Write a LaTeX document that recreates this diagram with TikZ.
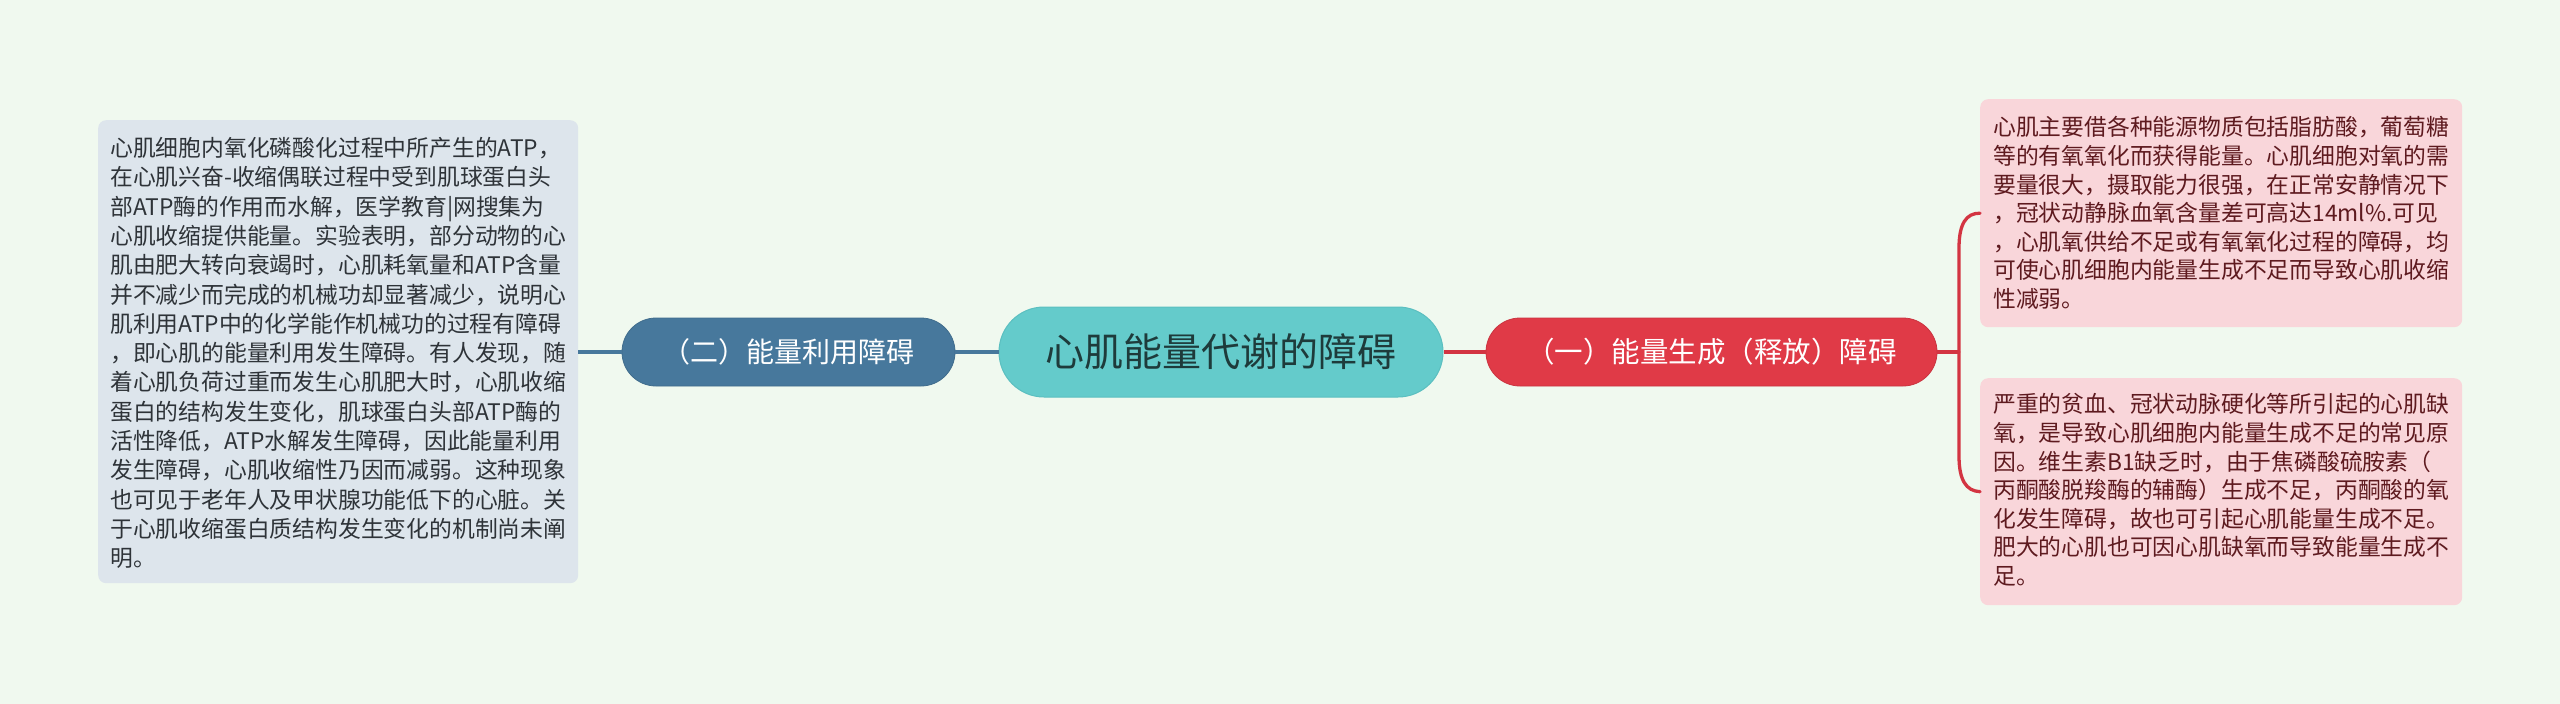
\documentclass[tikz,border=0pt]{standalone}
\usepackage{fontspec}
\setmainfont{Noto Sans CJK SC}
\definecolor{bgc}{HTML}{F0F9EF}
\definecolor{lboxc}{HTML}{DDE5EC}
\definecolor{ltextc}{HTML}{2E3338}
\definecolor{pboxc}{HTML}{F9D6DA}
\definecolor{ptextc}{HTML}{5E1A1F}
\definecolor{centc}{HTML}{64CBCB}
\definecolor{centb}{HTML}{5BBFC0}
\definecolor{centt}{HTML}{1E3B3B}
\definecolor{bluec}{HTML}{47789C}
\definecolor{redc}{HTML}{E03A47}
\definecolor{redl}{HTML}{D33542}
\begin{document}
\begin{tikzpicture}[x=1pt,y=-1pt,
  pill/.style={rectangle, rounded corners=34, minimum height=68, inner sep=0, align=center},
  bluenode/.style={pill, fill=bluec, draw=bluec!90!black, line width=0.8, text=white, minimum width=333, font=\fontsize{28}{32}\selectfont},
  rednode/.style={pill, fill=redc, draw=redc!90!black, line width=0.8, text=white, minimum width=451, font=\fontsize{28.5}{32}\selectfont},
  centnode/.style={rectangle, rounded corners=45, minimum height=90, minimum width=444, inner sep=0, fill=centc, draw=centb, line width=1, text=centt, font=\fontsize{39}{44}\selectfont},
  lbox/.style={rectangle, rounded corners=8, fill=lboxc, inner sep=0},
  pbox/.style={rectangle, rounded corners=8, fill=pboxc, inner sep=0},
  ltext/.style={inner sep=0, align=left, text=ltextc, font=\fontsize{22.8}{29.3}\selectfont},
  ptext/.style={inner sep=0, align=left, text=ptextc, font=\fontsize{22.8}{28.6}\selectfont},
  blueline/.style={draw=bluec, line width=3.3},
  redline/.style={draw=redl, line width=3.3}
]
\useasboundingbox (0,0) rectangle (2560,704);
\fill[bgc] (0,0) rectangle (2560,704);

% boxes
\node[lbox, minimum width=480, minimum height=463, anchor=north west] (L) at (98,120) {};
\node[pbox, minimum width=482, minimum height=228, anchor=north west] (T) at (1980,99) {};
\node[pbox, minimum width=482, minimum height=227, anchor=north west] (B) at (1980,378) {};

% main nodes
\node[centnode] (C) at (1221,352) {心肌能量代谢的障碍};
\node[bluenode] (N2) at (788.5,352) {（二）能量利用障碍};
\node[rednode] (N1) at (1711.5,352) {（一）能量生成（释放）障碍};

% texts
\node[ltext, anchor=west] (Lt) at (110,353) {心肌细胞内氧化磷酸化过程中所产生的ATP，\\
在心肌兴奋-收缩偶联过程中受到肌球蛋白头\\
部ATP酶的作用而水解，医学教育|网搜集为\\
心肌收缩提供能量。实验表明，部分动物的心\\
肌由肥大转向衰竭时，心肌耗氧量和ATP含量\\
并不减少而完成的机械功却显著减少，说明心\\
肌利用ATP中的化学能作机械功的过程有障碍\\
，即心肌的能量利用发生障碍。有人发现，随\\
着心肌负荷过重而发生心肌肥大时，心肌收缩\\
蛋白的结构发生变化，肌球蛋白头部ATP酶的\\
活性降低，ATP水解发生障碍，因此能量利用\\
发生障碍，心肌收缩性乃因而减弱。这种现象\\
也可见于老年人及甲状腺功能低下的心脏。关\\
于心肌收缩蛋白质结构发生变化的机制尚未阐\\
明。};

\node[ptext, anchor=west] (Tt) at (1993,213) {心肌主要借各种能源物质包括脂肪酸，葡萄糖\\
等的有氧氧化而获得能量。心肌细胞对氧的需\\
要量很大，摄取能力很强，在正常安静情况下\\
，冠状动静脉血氧含量差可高达14ml\%.可见\\
，心肌氧供给不足或有氧氧化过程的障碍，均\\
可使心肌细胞内能量生成不足而导致心肌收缩\\
性减弱。};

\node[ptext, anchor=west] (Bt) at (1993,490) {严重的贫血、冠状动脉硬化等所引起的心肌缺\\
氧，是导致心肌细胞内能量生成不足的常见原\\
因。维生素B1缺乏时，由于焦磷酸硫胺素（\\
丙酮酸脱羧酶的辅酶）生成不足，丙酮酸的氧\\
化发生障碍，故也可引起心肌能量生成不足。\\
肥大的心肌也可因心肌缺氧而导致能量生成不\\
足。};

% connectors
\draw[blueline] (L.east |- C.west) -- (N2.west);
\draw[blueline] (N2.east) -- (C.west);
\draw[redline] (C.east) -- (N1.west);
\coordinate (J) at (1959,352);
\draw[redline] (N1.east) -- (J);
\draw[redline, line cap=round] (J) -- (1959,248) .. controls (1959,224) and (1966,213) .. (T.west);
\draw[redline, line cap=round] (J) -- (1959,456) .. controls (1959,480) and (1966,491) .. (B.west);
\end{tikzpicture}
\end{document}
